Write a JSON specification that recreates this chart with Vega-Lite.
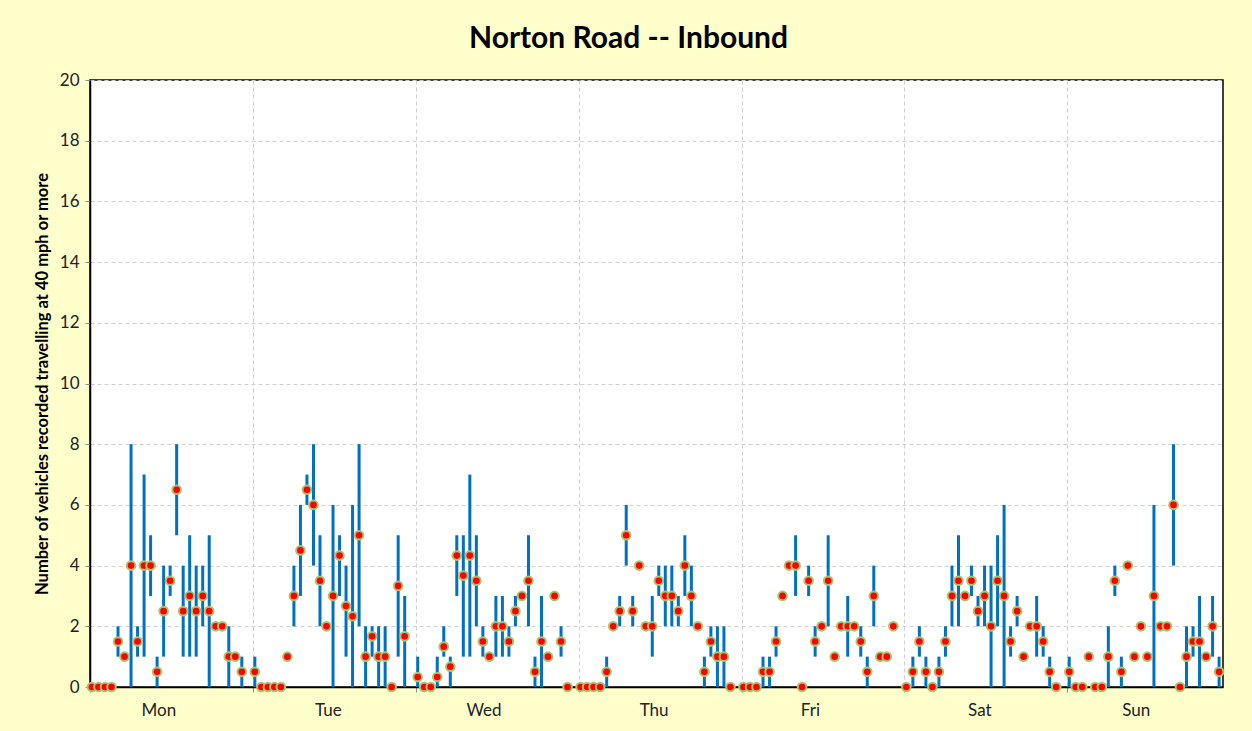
{
  "$schema": "https://vega.github.io/schema/vega-lite/v6.json",
  "width": 1133,
  "height": 607,
  "autosize": {"type": "none"},
  "padding": {"left": 90, "top": 80, "right": 29, "bottom": 44},
  "background": "#FFFFCC",
  "config": {
    "view": {"fill": "white", "stroke": "#000000", "strokeWidth": 1.5},
    "font": "Lato"
  },
  "title": {
    "text": "Norton Road -- Inbound",
    "font": "Lato",
    "fontSize": 30,
    "fontWeight": "bold",
    "color": "#000000",
    "anchor": "middle",
    "dx": -28,
    "offset": 17
  },
  "data": {
    "values": [
      {"day": "Mon", "hour": 0, "mean": 0, "min": 0, "max": 0},
      {"day": "Mon", "hour": 1, "mean": 0, "min": 0, "max": 0},
      {"day": "Mon", "hour": 2, "mean": 0, "min": 0, "max": 0},
      {"day": "Mon", "hour": 3, "mean": 0, "min": 0, "max": 0},
      {"day": "Mon", "hour": 4, "mean": 1.5, "min": 1, "max": 2},
      {"day": "Mon", "hour": 5, "mean": 1, "min": 1, "max": 1},
      {"day": "Mon", "hour": 6, "mean": 4, "min": 0, "max": 8},
      {"day": "Mon", "hour": 7, "mean": 1.5, "min": 1, "max": 2},
      {"day": "Mon", "hour": 8, "mean": 4, "min": 1, "max": 7},
      {"day": "Mon", "hour": 9, "mean": 4, "min": 3, "max": 5},
      {"day": "Mon", "hour": 10, "mean": 0.5, "min": 0, "max": 1},
      {"day": "Mon", "hour": 11, "mean": 2.5, "min": 1, "max": 4},
      {"day": "Mon", "hour": 12, "mean": 3.5, "min": 3, "max": 4},
      {"day": "Mon", "hour": 13, "mean": 6.5, "min": 5, "max": 8},
      {"day": "Mon", "hour": 14, "mean": 2.5, "min": 1, "max": 4},
      {"day": "Mon", "hour": 15, "mean": 3, "min": 1, "max": 5},
      {"day": "Mon", "hour": 16, "mean": 2.5, "min": 1, "max": 4},
      {"day": "Mon", "hour": 17, "mean": 3, "min": 2, "max": 4},
      {"day": "Mon", "hour": 18, "mean": 2.5, "min": 0, "max": 5},
      {"day": "Mon", "hour": 19, "mean": 2, "min": 2, "max": 2},
      {"day": "Mon", "hour": 20, "mean": 2, "min": 2, "max": 2},
      {"day": "Mon", "hour": 21, "mean": 1, "min": 0, "max": 2},
      {"day": "Mon", "hour": 22, "mean": 1, "min": 1, "max": 1},
      {"day": "Mon", "hour": 23, "mean": 0.5, "min": 0, "max": 1},
      {"day": "Tue", "hour": 0, "mean": 0.5, "min": 0, "max": 1},
      {"day": "Tue", "hour": 1, "mean": 0, "min": 0, "max": 0},
      {"day": "Tue", "hour": 2, "mean": 0, "min": 0, "max": 0},
      {"day": "Tue", "hour": 3, "mean": 0, "min": 0, "max": 0},
      {"day": "Tue", "hour": 4, "mean": 0, "min": 0, "max": 0},
      {"day": "Tue", "hour": 5, "mean": 1, "min": 1, "max": 1},
      {"day": "Tue", "hour": 6, "mean": 3, "min": 2, "max": 4},
      {"day": "Tue", "hour": 7, "mean": 4.5, "min": 3, "max": 6},
      {"day": "Tue", "hour": 8, "mean": 6.5, "min": 6, "max": 7},
      {"day": "Tue", "hour": 9, "mean": 6, "min": 4, "max": 8},
      {"day": "Tue", "hour": 10, "mean": 3.5, "min": 2, "max": 5},
      {"day": "Tue", "hour": 11, "mean": 2, "min": 2, "max": 2},
      {"day": "Tue", "hour": 12, "mean": 3, "min": 0, "max": 6},
      {"day": "Tue", "hour": 13, "mean": 4.33, "min": 3, "max": 5},
      {"day": "Tue", "hour": 14, "mean": 2.67, "min": 1, "max": 4},
      {"day": "Tue", "hour": 15, "mean": 2.33, "min": 0, "max": 6},
      {"day": "Tue", "hour": 16, "mean": 5, "min": 2, "max": 8},
      {"day": "Tue", "hour": 17, "mean": 1, "min": 0, "max": 2},
      {"day": "Tue", "hour": 18, "mean": 1.67, "min": 1, "max": 2},
      {"day": "Tue", "hour": 19, "mean": 1, "min": 0, "max": 2},
      {"day": "Tue", "hour": 20, "mean": 1, "min": 0, "max": 2},
      {"day": "Tue", "hour": 21, "mean": 0, "min": 0, "max": 0},
      {"day": "Tue", "hour": 22, "mean": 3.33, "min": 1, "max": 5},
      {"day": "Tue", "hour": 23, "mean": 1.67, "min": 0, "max": 3},
      {"day": "Wed", "hour": 0, "mean": 0.33, "min": 0, "max": 1},
      {"day": "Wed", "hour": 1, "mean": 0, "min": 0, "max": 0},
      {"day": "Wed", "hour": 2, "mean": 0, "min": 0, "max": 0},
      {"day": "Wed", "hour": 3, "mean": 0.33, "min": 0, "max": 1},
      {"day": "Wed", "hour": 4, "mean": 1.33, "min": 1, "max": 2},
      {"day": "Wed", "hour": 5, "mean": 0.67, "min": 0, "max": 1},
      {"day": "Wed", "hour": 6, "mean": 4.33, "min": 3, "max": 5},
      {"day": "Wed", "hour": 7, "mean": 3.67, "min": 1, "max": 5},
      {"day": "Wed", "hour": 8, "mean": 4.33, "min": 1, "max": 7},
      {"day": "Wed", "hour": 9, "mean": 3.5, "min": 2, "max": 5},
      {"day": "Wed", "hour": 10, "mean": 1.5, "min": 1, "max": 2},
      {"day": "Wed", "hour": 11, "mean": 1, "min": 1, "max": 1},
      {"day": "Wed", "hour": 12, "mean": 2, "min": 1, "max": 3},
      {"day": "Wed", "hour": 13, "mean": 2, "min": 1, "max": 3},
      {"day": "Wed", "hour": 14, "mean": 1.5, "min": 1, "max": 2},
      {"day": "Wed", "hour": 15, "mean": 2.5, "min": 2, "max": 3},
      {"day": "Wed", "hour": 16, "mean": 3, "min": 3, "max": 3},
      {"day": "Wed", "hour": 17, "mean": 3.5, "min": 2, "max": 5},
      {"day": "Wed", "hour": 18, "mean": 0.5, "min": 0, "max": 1},
      {"day": "Wed", "hour": 19, "mean": 1.5, "min": 0, "max": 3},
      {"day": "Wed", "hour": 20, "mean": 1, "min": 1, "max": 1},
      {"day": "Wed", "hour": 21, "mean": 3, "min": 3, "max": 3},
      {"day": "Wed", "hour": 22, "mean": 1.5, "min": 1, "max": 2},
      {"day": "Wed", "hour": 23, "mean": 0, "min": 0, "max": 0},
      {"day": "Thu", "hour": 0, "mean": 0, "min": 0, "max": 0},
      {"day": "Thu", "hour": 1, "mean": 0, "min": 0, "max": 0},
      {"day": "Thu", "hour": 2, "mean": 0, "min": 0, "max": 0},
      {"day": "Thu", "hour": 3, "mean": 0, "min": 0, "max": 0},
      {"day": "Thu", "hour": 4, "mean": 0.5, "min": 0, "max": 1},
      {"day": "Thu", "hour": 5, "mean": 2, "min": 2, "max": 2},
      {"day": "Thu", "hour": 6, "mean": 2.5, "min": 2, "max": 3},
      {"day": "Thu", "hour": 7, "mean": 5, "min": 4, "max": 6},
      {"day": "Thu", "hour": 8, "mean": 2.5, "min": 2, "max": 3},
      {"day": "Thu", "hour": 9, "mean": 4, "min": 4, "max": 4},
      {"day": "Thu", "hour": 10, "mean": 2, "min": 2, "max": 2},
      {"day": "Thu", "hour": 11, "mean": 2, "min": 1, "max": 3},
      {"day": "Thu", "hour": 12, "mean": 3.5, "min": 3, "max": 4},
      {"day": "Thu", "hour": 13, "mean": 3, "min": 2, "max": 4},
      {"day": "Thu", "hour": 14, "mean": 3, "min": 2, "max": 4},
      {"day": "Thu", "hour": 15, "mean": 2.5, "min": 2, "max": 3},
      {"day": "Thu", "hour": 16, "mean": 4, "min": 3, "max": 5},
      {"day": "Thu", "hour": 17, "mean": 3, "min": 2, "max": 4},
      {"day": "Thu", "hour": 18, "mean": 2, "min": 2, "max": 2},
      {"day": "Thu", "hour": 19, "mean": 0.5, "min": 0, "max": 1},
      {"day": "Thu", "hour": 20, "mean": 1.5, "min": 1, "max": 2},
      {"day": "Thu", "hour": 21, "mean": 1, "min": 0, "max": 2},
      {"day": "Thu", "hour": 22, "mean": 1, "min": 0, "max": 2},
      {"day": "Thu", "hour": 23, "mean": 0, "min": 0, "max": 0},
      {"day": "Fri", "hour": 0, "mean": 0, "min": 0, "max": 0},
      {"day": "Fri", "hour": 1, "mean": 0, "min": 0, "max": 0},
      {"day": "Fri", "hour": 2, "mean": 0, "min": 0, "max": 0},
      {"day": "Fri", "hour": 3, "mean": 0.5, "min": 0, "max": 1},
      {"day": "Fri", "hour": 4, "mean": 0.5, "min": 0, "max": 1},
      {"day": "Fri", "hour": 5, "mean": 1.5, "min": 1, "max": 2},
      {"day": "Fri", "hour": 6, "mean": 3, "min": 3, "max": 3},
      {"day": "Fri", "hour": 7, "mean": 4, "min": 4, "max": 4},
      {"day": "Fri", "hour": 8, "mean": 4, "min": 3, "max": 5},
      {"day": "Fri", "hour": 9, "mean": 0, "min": 0, "max": 0},
      {"day": "Fri", "hour": 10, "mean": 3.5, "min": 3, "max": 4},
      {"day": "Fri", "hour": 11, "mean": 1.5, "min": 1, "max": 2},
      {"day": "Fri", "hour": 12, "mean": 2, "min": 2, "max": 2},
      {"day": "Fri", "hour": 13, "mean": 3.5, "min": 2, "max": 5},
      {"day": "Fri", "hour": 14, "mean": 1, "min": 1, "max": 1},
      {"day": "Fri", "hour": 15, "mean": 2, "min": 2, "max": 2},
      {"day": "Fri", "hour": 16, "mean": 2, "min": 1, "max": 3},
      {"day": "Fri", "hour": 17, "mean": 2, "min": 2, "max": 2},
      {"day": "Fri", "hour": 18, "mean": 1.5, "min": 1, "max": 2},
      {"day": "Fri", "hour": 19, "mean": 0.5, "min": 0, "max": 1},
      {"day": "Fri", "hour": 20, "mean": 3, "min": 2, "max": 4},
      {"day": "Fri", "hour": 21, "mean": 1, "min": 1, "max": 1},
      {"day": "Fri", "hour": 22, "mean": 1, "min": 1, "max": 1},
      {"day": "Fri", "hour": 23, "mean": 2, "min": 2, "max": 2},
      {"day": "Sat", "hour": 0, "mean": 0, "min": 0, "max": 0},
      {"day": "Sat", "hour": 1, "mean": 0.5, "min": 0, "max": 1},
      {"day": "Sat", "hour": 2, "mean": 1.5, "min": 1, "max": 2},
      {"day": "Sat", "hour": 3, "mean": 0.5, "min": 0, "max": 1},
      {"day": "Sat", "hour": 4, "mean": 0, "min": 0, "max": 0},
      {"day": "Sat", "hour": 5, "mean": 0.5, "min": 0, "max": 1},
      {"day": "Sat", "hour": 6, "mean": 1.5, "min": 1, "max": 2},
      {"day": "Sat", "hour": 7, "mean": 3, "min": 2, "max": 4},
      {"day": "Sat", "hour": 8, "mean": 3.5, "min": 2, "max": 5},
      {"day": "Sat", "hour": 9, "mean": 3, "min": 3, "max": 3},
      {"day": "Sat", "hour": 10, "mean": 3.5, "min": 3, "max": 4},
      {"day": "Sat", "hour": 11, "mean": 2.5, "min": 2, "max": 3},
      {"day": "Sat", "hour": 12, "mean": 3, "min": 2, "max": 4},
      {"day": "Sat", "hour": 13, "mean": 2, "min": 0, "max": 4},
      {"day": "Sat", "hour": 14, "mean": 3.5, "min": 2, "max": 5},
      {"day": "Sat", "hour": 15, "mean": 3, "min": 0, "max": 6},
      {"day": "Sat", "hour": 16, "mean": 1.5, "min": 1, "max": 2},
      {"day": "Sat", "hour": 17, "mean": 2.5, "min": 2, "max": 3},
      {"day": "Sat", "hour": 18, "mean": 1, "min": 1, "max": 1},
      {"day": "Sat", "hour": 19, "mean": 2, "min": 2, "max": 2},
      {"day": "Sat", "hour": 20, "mean": 2, "min": 1, "max": 3},
      {"day": "Sat", "hour": 21, "mean": 1.5, "min": 1, "max": 2},
      {"day": "Sat", "hour": 22, "mean": 0.5, "min": 0, "max": 1},
      {"day": "Sat", "hour": 23, "mean": 0, "min": 0, "max": 0},
      {"day": "Sun", "hour": 0, "mean": 0.5, "min": 0, "max": 1},
      {"day": "Sun", "hour": 1, "mean": 0, "min": 0, "max": 0},
      {"day": "Sun", "hour": 2, "mean": 0, "min": 0, "max": 0},
      {"day": "Sun", "hour": 3, "mean": 1, "min": 1, "max": 1},
      {"day": "Sun", "hour": 4, "mean": 0, "min": 0, "max": 0},
      {"day": "Sun", "hour": 5, "mean": 0, "min": 0, "max": 0},
      {"day": "Sun", "hour": 6, "mean": 1, "min": 0, "max": 2},
      {"day": "Sun", "hour": 7, "mean": 3.5, "min": 3, "max": 4},
      {"day": "Sun", "hour": 8, "mean": 0.5, "min": 0, "max": 1},
      {"day": "Sun", "hour": 9, "mean": 4, "min": 4, "max": 4},
      {"day": "Sun", "hour": 10, "mean": 1, "min": 1, "max": 1},
      {"day": "Sun", "hour": 11, "mean": 2, "min": 2, "max": 2},
      {"day": "Sun", "hour": 12, "mean": 1, "min": 1, "max": 1},
      {"day": "Sun", "hour": 13, "mean": 3, "min": 0, "max": 6},
      {"day": "Sun", "hour": 14, "mean": 2, "min": 2, "max": 2},
      {"day": "Sun", "hour": 15, "mean": 2, "min": 2, "max": 2},
      {"day": "Sun", "hour": 16, "mean": 6, "min": 4, "max": 8},
      {"day": "Sun", "hour": 17, "mean": 0, "min": 0, "max": 0},
      {"day": "Sun", "hour": 18, "mean": 1, "min": 0, "max": 2},
      {"day": "Sun", "hour": 19, "mean": 1.5, "min": 1, "max": 2},
      {"day": "Sun", "hour": 20, "mean": 1.5, "min": 0, "max": 3},
      {"day": "Sun", "hour": 21, "mean": 1, "min": 1, "max": 1},
      {"day": "Sun", "hour": 22, "mean": 2, "min": 1, "max": 3},
      {"day": "Sun", "hour": 23, "mean": 0.5, "min": 0, "max": 1}
    ]
  },
  "transform": [
    {"calculate": "indexof(['Mon','Tue','Wed','Thu','Fri','Sat','Sun'], datum.day) * 25 + datum.hour", "as": "slot"}
  ],
  "encoding": {
    "x": {
      "field": "slot",
      "type": "quantitative",
      "scale": {"domain": [-0.3, 173.6], "nice": false, "zero": false},
      "axis": {
        "title": null,
        "values": [-0.3, 10.2, 24.7, 36.2, 49.7, 60.1, 74.7, 86.2, 99.7, 110.2, 124.7, 136.2, 149.7, 160.2],
        "labelExpr": "indexof([-0.3,24.7,49.7,74.7,99.7,124.7,149.7], datum.value) >= 0 ? '' : ['Mon','Tue','Wed','Thu','Fri','Sat','Sun'][floor((datum.value + 0.3) / 25)]",
        "grid": true,
        "gridColor": "#D0D0D0",
        "gridDash": [4, 3],
        "gridWidth": 1,
        "gridOpacity": {"condition": {"test": "indexof([24.7,49.7,74.7,99.7,124.7,149.7], datum.value) >= 0", "value": 1}, "value": 0},
        "ticks": true,
        "tickColor": "#8C8C8C",
        "tickSize": 5,
        "tickOpacity": {"condition": {"test": "indexof([-0.3,24.7,49.7,74.7,99.7,124.7,149.7], datum.value) >= 0", "value": 1}, "value": 0},
        "domainColor": "#000000",
        "domainWidth": 1.5,
        "labelFont": "Lato",
        "labelFontSize": 17,
        "labelColor": "#222222",
        "labelPadding": 10,
        "labelFlush": false,
        "labelOverlap": false
      }
    },
    "y": {
      "field": "mean",
      "type": "quantitative",
      "scale": {"domain": [0, 20], "nice": false},
      "axis": {
        "title": "Number of vehicles recorded travelling at 40 mph or more",
        "titleFont": "Lato",
        "titleFontSize": 16.5,
        "titleFontWeight": "bold",
        "titleColor": "#000000",
        "titlePadding": 9,
        "values": [0, 2, 4, 6, 8, 10, 12, 14, 16, 18, 20],
        "grid": true,
        "gridColor": "#D0D0D0",
        "gridDash": [4, 3],
        "tickColor": "#8C8C8C",
        "tickSize": 5,
        "domainColor": "#000000",
        "domainWidth": 1.5,
        "labelFont": "Lato",
        "labelFontSize": 17,
        "labelColor": "#222222",
        "labelPadding": 6
      }
    }
  },
  "layer": [
    {
      "mark": {"type": "rule", "color": "#0070C0", "strokeWidth": 3, "strokeCap": "butt"},
      "encoding": {
        "y": {"field": "min", "type": "quantitative"},
        "y2": {"field": "max"}
      }
    },
    {
      "mark": {"type": "point", "filled": true, "fill": "#FF0000", "stroke": "#A8C56E", "strokeWidth": 2, "size": 75, "opacity": 1, "fillOpacity": 1, "strokeOpacity": 1}
    }
  ]
}
